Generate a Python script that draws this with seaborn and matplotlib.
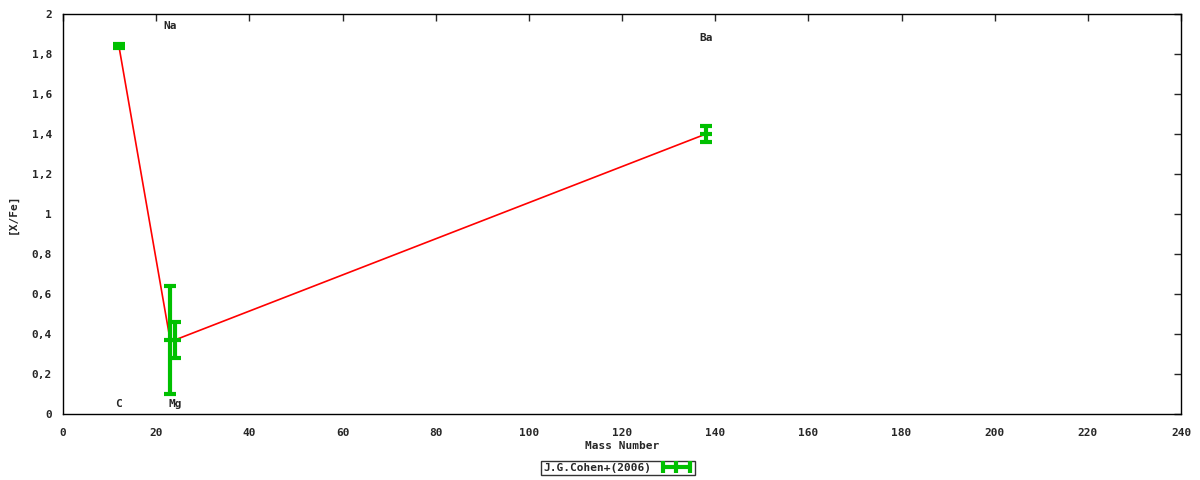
import numpy as np
import pandas as pd
import matplotlib
matplotlib.use('Agg')
import matplotlib.pyplot as plt
import seaborn as sns
from matplotlib.ticker import FuncFormatter
from matplotlib.lines import Line2D

# element data (mass number, [X/Fe], error)
elements = ['C', 'Na', 'Mg', 'Ba']
mass = [12, 23, 24, 138]
xfe = [1.84, 0.37, 0.37, 1.40]
err = [0.01, 0.27, 0.09, 0.04]
label_y = [0.05, 1.94, 0.05, 1.88]

df = pd.DataFrame({'mass': mass, 'xfe': xfe, 'err': err})

sns.set_style('white')
plt.rcParams['font.family'] = ['DejaVu Sans Mono', 'DejaVu Sans']
plt.rcParams['font.weight'] = 'bold'

green = '#00c000'

fig = plt.figure(figsize=(12, 4.8), dpi=100)
ax = fig.add_axes([0.0525, 0.1375, 0.9317, 0.8333])

sns.lineplot(data=df, x='mass', y='xfe', color='red', lw=1.2, ax=ax,
             sort=False, legend=False)
ax.errorbar(df['mass'], df['xfe'], yerr=df['err'], fmt='none',
            ecolor=green, elinewidth=3, capsize=4, capthick=3)
# short horizontal marks at the points
ax.scatter(df['mass'], df['xfe'], marker='_', s=80, color=green,
           linewidths=3, zorder=3)

for el, m, ly in zip(elements, mass, label_y):
    ax.text(m, ly, el, ha='center', va='center', fontsize=8, fontweight='bold')

ax.set_xlim(0, 240)
ax.set_ylim(0, 2)
ax.set_xticks(np.arange(0, 241, 20))
ax.set_yticks(np.arange(0, 2.01, 0.2))
ax.yaxis.set_major_formatter(FuncFormatter(
    lambda v, p: ('%g' % round(v, 1)).replace('.', ',')))
ax.tick_params(direction='in', length=5, labelsize=8, top=True, right=True,
               width=1)
ax.tick_params(axis='x', pad=10)
ax.tick_params(axis='y', pad=8)
for s in ax.spines.values():
    s.set_linewidth(1)
    s.set_color('black')
ax.set_xlabel('Mass Number', fontsize=8, fontweight='bold', labelpad=2)
ax.set_ylabel('[X/Fe]', fontsize=8, fontweight='bold', labelpad=10)

handle = Line2D([], [], color=green, lw=3, marker='|', ms=9, mew=3)
leg = fig.legend(handles=[handle], labels=['J.G.Cohen+(2006)'], loc='center',
                 bbox_to_anchor=(0.515, 0.025), fontsize=8, frameon=True,
                 fancybox=False, markerfirst=False, numpoints=3,
                 handlelength=3, borderpad=0.2, edgecolor='black')
leg.get_frame().set_linewidth(1)

fig.savefig('out.png', dpi=100)
